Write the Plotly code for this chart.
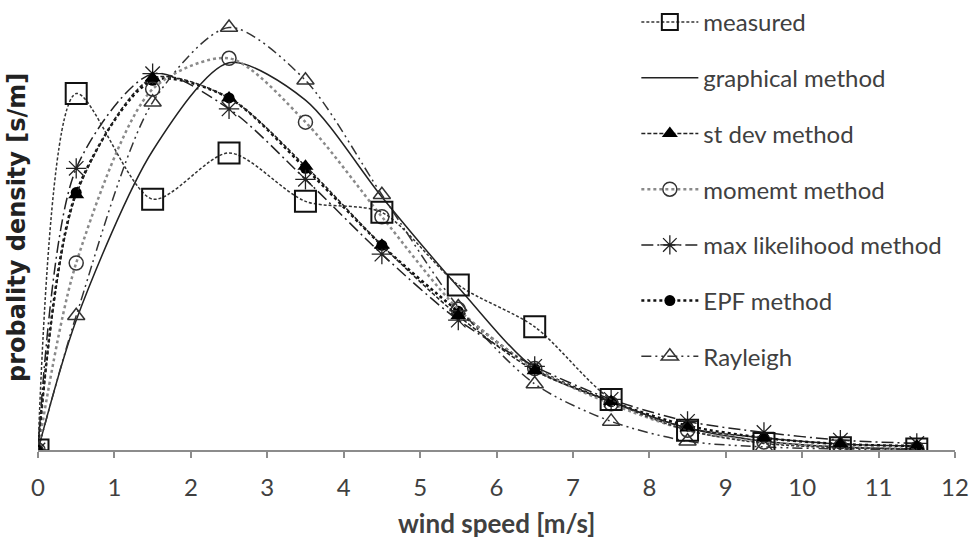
import plotly.graph_objects as go

wind_speed = [0, 0.5, 1.5, 2.5, 3.5, 4.5, 5.5, 6.5, 7.5, 8.5, 9.5, 10.5, 11.5]

measured = [0, 0.162, 0.114, 0.135, 0.113, 0.108, 0.075, 0.056, 0.023, 0.009, 0.003, 0.001, 0.0005]
graphical = [0, 0.059, 0.136, 0.176, 0.159, 0.115, 0.074, 0.037, 0.022, 0.010, 0.004, 0.0014, 0.0005]
st_dev = [0, 0.116, 0.169, 0.160, 0.129, 0.093, 0.061, 0.036, 0.022, 0.010, 0.0055, 0.0027, 0.0018]
moment = [0, 0.085, 0.164, 0.178, 0.149, 0.106, 0.064, 0.037, 0.021, 0.009, 0.0036, 0.0014, 0.0005]
max_likelihood = [0, 0.128, 0.171, 0.155, 0.123, 0.089, 0.059, 0.038, 0.023, 0.013, 0.008, 0.0045, 0.003]
epf = [0, 0.117, 0.168, 0.160, 0.128, 0.093, 0.063, 0.037, 0.022, 0.011, 0.0055, 0.0027, 0.0018]
rayleigh = [0, 0.061, 0.158, 0.192, 0.168, 0.116, 0.065, 0.030, 0.013, 0.004, 0.0014, 0.0005, 0.0002]

x_ticks = list(range(0, 13))

FONT = "Lato"
TXT = "#404040"

# (legend rank, name, values, line style, marker style) -- listed in drawing order
series = [
    (6, "EPF method", epf, dict(color="#111111", width=2.5, dash="dot"),
     dict(symbol="circle", size=11, color="#000000")),
    (2, "graphical method", graphical, dict(color="#222222", width=1.5, dash="solid"), None),
    (4, "momemt method", moment, dict(color="#8a8a8a", width=2.5, dash="dot"),
     dict(symbol="circle-open", size=14, color="#333333", line=dict(width=1.5, color="#333333"))),
    (7, "Rayleigh", rayleigh, dict(color="#333333", width=1.5, dash="10px,4px,2px,4px,2px,4px"),
     dict(symbol="triangle-up-open", size=15, color="#333333", line=dict(width=1.5, color="#333333"))),
    (5, "max likelihood method", max_likelihood, dict(color="#222222", width=1.5, dash="12px,4px,2px,4px"),
     dict(symbol="asterisk-open", size=17, color="#222222", line=dict(width=1.3, color="#222222"))),
    (3, "st dev method", st_dev, dict(color="#222222", width=1.5, dash="4px,2px"),
     dict(symbol="triangle-up", size=14, color="#000000")),
    (1, "measured", measured, dict(color="#333333", width=1.5, dash="3px,2px"),
     dict(symbol="square-open", size=21, color="#111111", line=dict(width=2, color="#111111"))),
]

fig = go.Figure()
for rank, name, vals, line, marker in series:
    kw = dict(x=wind_speed, y=vals, name=name, line=dict(shape="spline", smoothing=0.8, **line),
              legendgroup=f"g{rank}", legendrank=rank)
    if marker is None:
        kw["mode"] = "lines"
    else:
        kw["mode"] = "lines+markers"
        kw["marker"] = marker
    fig.add_trace(go.Scatter(**kw))

fig.update_layout(
    width=973, height=542,
    margin=dict(l=38, r=18, t=0, b=92),
    paper_bgcolor="white", plot_bgcolor="white",
    font=dict(family=FONT, size=20, color=TXT),
    showlegend=True,
    legend=dict(x=0.6525, y=1.0, xanchor="left", yanchor="top",
                bgcolor="rgba(0,0,0,0)", font=dict(size=24, color=TXT, family=FONT),
                tracegroupgap=21.5, itemwidth=57, traceorder="grouped", maxheight=600),
    xaxis=dict(range=[0, 12], tickvals=x_ticks, ticktext=[str(v) for v in x_ticks],
               automargin=False,
               showgrid=False, zeroline=False, showline=True, linecolor="#8c8c8c", linewidth=1.5,
               ticks="outside", ticklen=6, tickcolor="#8c8c8c", tickwidth=1.5,
               ticklabelstandoff=9,
               tickfont=dict(size=24, color=TXT, family=FONT)),
    yaxis=dict(range=[0, 0.2045], showgrid=False, zeroline=False, showline=False,
               automargin=False, showticklabels=False, ticks=""),
    annotations=[
        dict(text="<b>wind speed [m/s]</b>", xref="paper", yref="paper", x=0.5, y=0,
             xanchor="center", yanchor="middle", yshift=-73, showarrow=False,
             font=dict(size=26, color=TXT, family=FONT)),
        dict(text="<b>probality density [s/m]</b>", xref="paper", yref="paper", x=0, y=0.5,
             xanchor="center", yanchor="middle", xshift=-21, yshift=-3, textangle=-90, showarrow=False,
             font=dict(size=24, color="#222222", family="DejaVu Sans")),
    ],
)

fig.write_html("out.html", config={"displayModeBar": False},
               post_script="document.body.style.margin='0';")
